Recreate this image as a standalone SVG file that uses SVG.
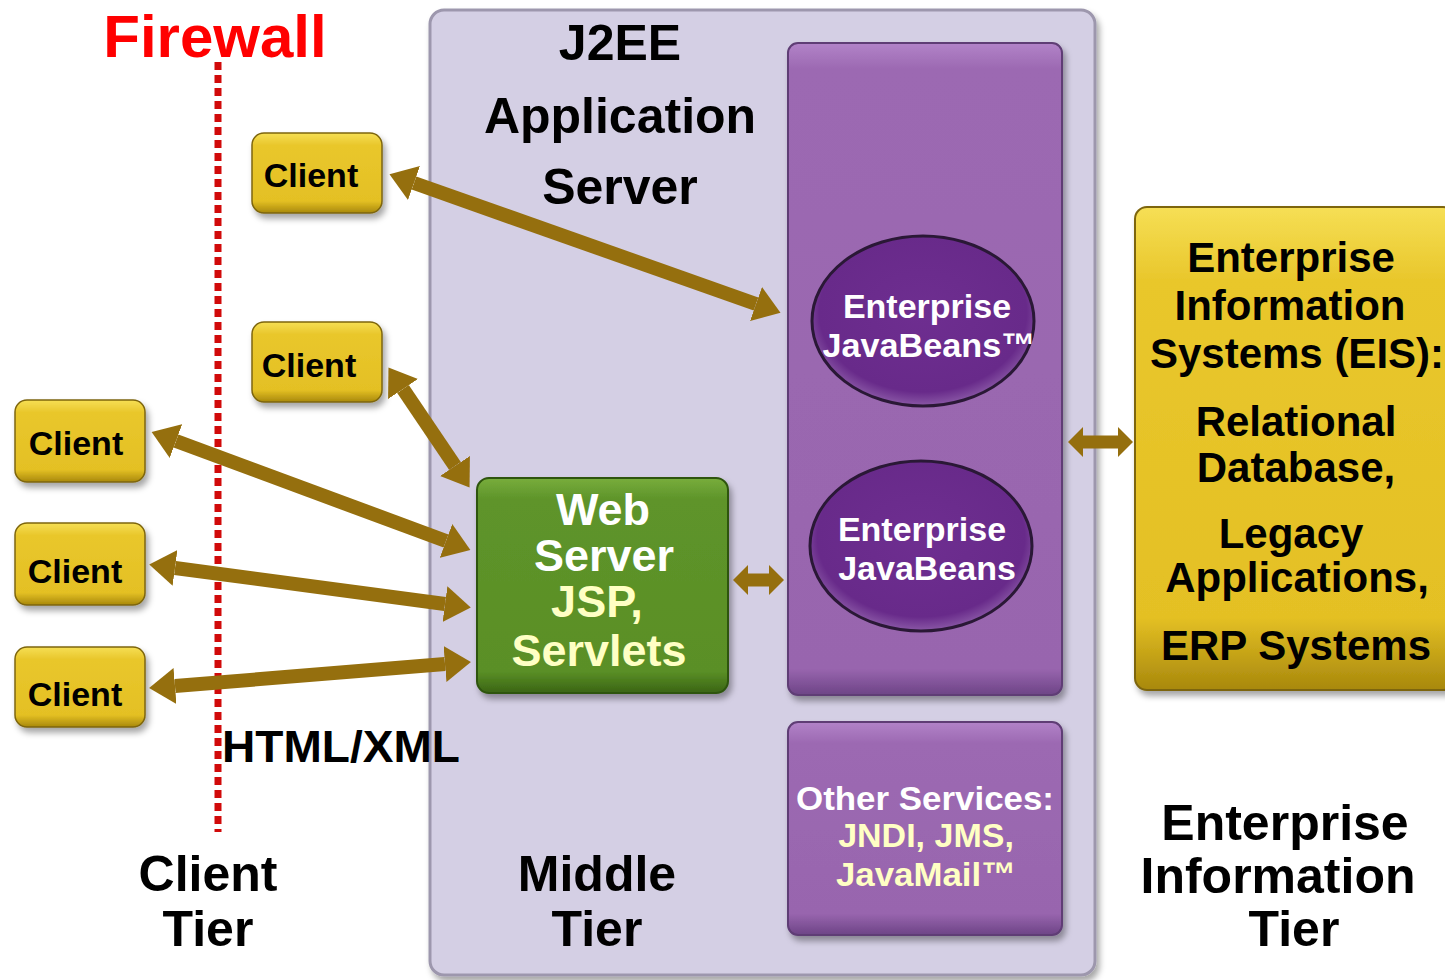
<svg xmlns="http://www.w3.org/2000/svg" width="1445" height="980" viewBox="0 0 1445 980">
<defs>
  <filter id="sh" x="-10%" y="-10%" width="130%" height="130%">
    <feDropShadow dx="3" dy="5" stdDeviation="3" flood-color="#000" flood-opacity="0.35"/>
  </filter>
  <linearGradient id="gYellow" x1="0" y1="0" x2="0" y2="1">
    <stop offset="0" stop-color="#f6df55"/>
    <stop offset="0.15" stop-color="#e9c72c"/>
    <stop offset="0.85" stop-color="#e4c024"/>
    <stop offset="1" stop-color="#a8880c"/>
  </linearGradient>
  <linearGradient id="gGreen" x1="0" y1="0" x2="0" y2="1">
    <stop offset="0" stop-color="#78ad3c"/>
    <stop offset="0.1" stop-color="#5e942a"/>
    <stop offset="0.9" stop-color="#5a8f26"/>
    <stop offset="1" stop-color="#3a6414"/>
  </linearGradient>
  <linearGradient id="gPurple" x1="0" y1="0" x2="0" y2="1">
    <stop offset="0" stop-color="#b283c8"/>
    <stop offset="0.04" stop-color="#9c69b2"/>
    <stop offset="0.96" stop-color="#9865ae"/>
    <stop offset="1" stop-color="#6d4486"/>
  </linearGradient>
  <linearGradient id="gPurple2" x1="0" y1="0" x2="0" y2="1">
    <stop offset="0" stop-color="#b283c8"/>
    <stop offset="0.1" stop-color="#9c69b2"/>
    <stop offset="0.9" stop-color="#9865ae"/>
    <stop offset="1" stop-color="#6d4486"/>
  </linearGradient>
  <radialGradient id="gEll" cx="0.5" cy="0.45" r="0.55">
    <stop offset="0" stop-color="#6e2e90"/>
    <stop offset="0.85" stop-color="#682a8a"/>
    <stop offset="1" stop-color="#8a58a6"/>
  </radialGradient>
  <marker id="ah" markerUnits="userSpaceOnUse" markerWidth="26" markerHeight="36" refX="0" refY="18" orient="auto-start-reverse" viewBox="0 0 26 36">
    <path d="M0,0 L26,18 L0,36 Z" fill="#956f0e"/>
  </marker>
  <marker id="ahs" markerUnits="userSpaceOnUse" markerWidth="15" markerHeight="30" refX="0" refY="15" orient="auto-start-reverse" viewBox="0 0 15 30">
    <path d="M0,0 L15,15 L0,30 Z" fill="#956f0e"/>
  </marker>
  <style>
    text { font-family: "Liberation Sans", Arial, sans-serif; font-weight: bold; text-anchor: middle; }
    .client rect { fill: url(#gYellow); stroke: #7d650c; stroke-width: 1.5; filter: url(#sh); }
    .client text { font-size: 34px; fill: #000; }
    .conn line { stroke: #956f0e; stroke-width: 14; marker-start: url(#ah); marker-end: url(#ah); }
    .conn line.s { stroke-width: 13; marker-start: url(#ahs); marker-end: url(#ahs); }
    .big { font-size: 50px; fill: #000; }
    .ejb { font-size: 34px; fill: #fff; }
    .web { font-size: 45px; fill: #fff; }
    .cream { fill: #ffffc4; }
    .eis { font-size: 42px; fill: #000; }
  </style>
</defs>

<g id="firewall">
  <text x="215" y="57" style="font-size:60px;fill:#ff0000">Firewall</text>
  <line x1="218" y1="62" x2="218" y2="832" stroke="#d10a0a" stroke-width="7" stroke-dasharray="8 5"/>
</g>

<g id="j2ee-server">
  <rect x="430" y="10" width="665" height="965" rx="14" fill="#d4cfe4" stroke="#9d97ad" stroke-width="3" filter="url(#sh)"/>
  <text class="big" x="620" y="60">J2EE</text>
  <text class="big" x="620" y="133">Application</text>
  <text class="big" x="620" y="204">Server</text>
</g>

<g id="ejb-container">
  <rect x="788" y="43" width="274" height="652" rx="10" fill="url(#gPurple)" stroke="#5e3c74" stroke-width="2" filter="url(#sh)"/>
</g>

<g id="ejb1">
  <ellipse cx="923" cy="321" rx="111" ry="85" fill="url(#gEll)" stroke="#2a1836" stroke-width="3"/>
  <text class="ejb" x="927" y="318">Enterprise</text>
  <text class="ejb" x="929" y="357" textLength="213" lengthAdjust="spacingAndGlyphs">JavaBeans™</text>
</g>

<g id="ejb2">
  <ellipse cx="921" cy="546" rx="111" ry="85" fill="url(#gEll)" stroke="#2a1836" stroke-width="3"/>
  <text class="ejb" x="922" y="541">Enterprise</text>
  <text class="ejb" x="927" y="580">JavaBeans</text>
</g>

<g id="other-services">
  <rect x="788" y="722" width="274" height="213" rx="10" fill="url(#gPurple2)" stroke="#5e3c74" stroke-width="2" filter="url(#sh)"/>
  <text x="925" y="810" style="font-size:34px;fill:#fff" textLength="258" lengthAdjust="spacingAndGlyphs">Other Services:</text>
  <text x="926" y="847" class="cream" style="font-size:34px">JNDI, JMS,</text>
  <text x="926" y="886" class="cream" style="font-size:34px" textLength="180" lengthAdjust="spacingAndGlyphs">JavaMail™</text>
</g>

<g id="web-server">
  <rect x="477" y="478" width="251" height="215" rx="12" fill="url(#gGreen)" stroke="#2d540e" stroke-width="2" filter="url(#sh)"/>
  <text class="web" x="603" y="525">Web</text>
  <text class="web" x="604" y="571">Server</text>
  <text class="web cream" x="597" y="617">JSP,</text>
  <text class="web cream" x="599" y="666">Servlets</text>
</g>

<g id="eis">
  <rect x="1135" y="207" width="320" height="483" rx="12" fill="url(#gYellow)" stroke="#7d650c" stroke-width="2" filter="url(#sh)"/>
  <text class="eis" x="1291" y="272">Enterprise</text>
  <text class="eis" x="1290" y="320">Information</text>
  <text class="eis" x="1297" y="368">Systems (EIS):</text>
  <text class="eis" x="1296" y="436">Relational</text>
  <text class="eis" x="1296" y="482">Database,</text>
  <text class="eis" x="1291" y="548">Legacy</text>
  <text class="eis" x="1297" y="592">Applications,</text>
  <text class="eis" x="1296" y="660">ERP Systems</text>
</g>

<g id="client1" class="client">
  <rect x="252" y="133" width="130" height="80" rx="12"/>
  <text x="311" y="187">Client</text>
</g>
<g id="client2" class="client">
  <rect x="252" y="322" width="130" height="80" rx="12"/>
  <text x="309" y="377">Client</text>
</g>
<g id="client3" class="client">
  <rect x="15" y="400" width="130" height="82" rx="12"/>
  <text x="76" y="455">Client</text>
</g>
<g id="client4" class="client">
  <rect x="15" y="523" width="130" height="82" rx="12"/>
  <text x="75" y="583">Client</text>
</g>
<g id="client5" class="client">
  <rect x="15" y="647" width="130" height="80" rx="12"/>
  <text x="75" y="706">Client</text>
</g>

<g id="connectors" class="conn">
  <line x1="414" y1="183" x2="756" y2="304"/>
  <line x1="403" y1="389" x2="455" y2="466"/>
  <line x1="176" y1="441" x2="446" y2="541"/>
  <line x1="175" y1="568" x2="445" y2="604"/>
  <line x1="175" y1="686" x2="445" y2="664"/>
  <line class="s" x1="748" y1="580" x2="769" y2="580"/>
  <line class="s" x1="1083" y1="442" x2="1118" y2="442"/>
</g>

<g id="labels">
  <text x="341" y="762" style="font-size:45px;fill:#000" textLength="238" lengthAdjust="spacingAndGlyphs">HTML/XML</text>
  <text class="big" x="208" y="891">Client</text>
  <text class="big" x="208" y="946">Tier</text>
  <text class="big" x="597" y="891">Middle</text>
  <text class="big" x="597" y="946">Tier</text>
  <text class="big" x="1285" y="840">Enterprise</text>
  <text class="big" x="1278" y="893">Information</text>
  <text class="big" x="1294" y="946">Tier</text>
</g>
</svg>
